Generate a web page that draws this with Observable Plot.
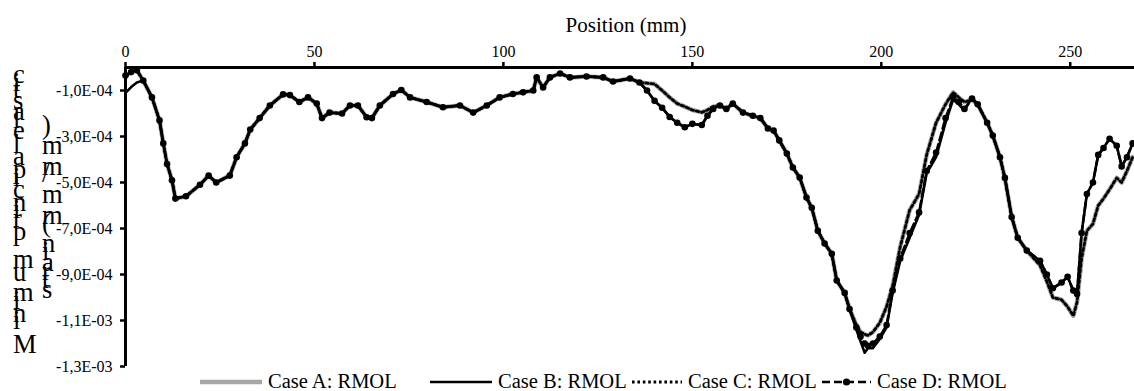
<!DOCTYPE html>
<html><head><meta charset="utf-8">
<script src="https://cdn.jsdelivr.net/npm/d3@7"></script>
<script src="https://cdn.jsdelivr.net/npm/@observablehq/plot@0.6"></script>
<style>
body{margin:0;background:#fff;font-family:"Liberation Serif","Tinos","DejaVu Serif","Noto Serif",serif;}
#chart{width:1134px;height:372px;}
#legend{position:relative;width:1134px;height:19px;}
.item{position:absolute;top:0;height:19px;display:flex;align-items:center;font-size:20.5px;color:#000;white-space:nowrap;}
.item svg{margin-right:6px;}
#chart svg text{font-family:"Liberation Serif","Tinos","DejaVu Serif","Noto Serif",serif;}
</style></head><body>
<div id="chart"></div><div id="legend"></div>
<script>
// Position along the section (mm)
const positionMm = [
  0, 1.5, 3, 4.7, 7, 9, 10, 11, 12.3, 13.2,
  16, 19.7, 22, 24, 27.6, 29.4, 31.6, 33, 35.5, 38.2,
  41.7, 43.5, 46, 48.3, 50.6, 52, 54, 57.3, 59.4, 61.5,
  63.8, 65.2, 67.3, 70.8, 73, 75.3, 79.7, 84, 88.5, 92,
  95.6, 99, 102.5, 105.2, 107.9, 108.8, 110.5, 112.3, 115, 117.6,
  122, 126.4, 129, 133.5, 136, 138, 140, 142, 144, 146,
  148, 150, 152.5, 154, 155.5, 157.3, 159, 160.7, 163.4, 166,
  168, 170, 171.5, 173, 175, 176.6, 178.4, 180.2, 181.6, 183.2,
  185, 186.9, 188.2, 190.3, 191.6, 193.4, 194.5, 195.6, 196.5, 197.8,
  199.6, 201.4, 203, 205, 207.5, 210, 212, 214.5, 217, 219,
  220.5, 222, 224, 225.5, 228, 229.5, 231.4, 232.7, 234.5, 236.1,
  238.5, 242, 243.8, 245.4, 247.7, 249.3, 250.8, 251.8, 253, 254.4,
  256, 257.4, 258.8, 260.4, 262.3, 263.6, 265, 266.5
];
// Minimum principal elastic strain, in units of 1E-04 mm/mm
const caseA = [
  -0.35, -0.2, -0.12, -0.57, -1.3, -2.3, -3.3, -4.2, -4.9, -5.7,
  -5.6, -5.1, -4.7, -5.0, -4.7, -3.9, -3.3, -2.7, -2.2, -1.65,
  -1.17, -1.2, -1.5, -1.3, -1.57, -2.2, -1.96, -2.0, -1.65, -1.65,
  -2.16, -2.2, -1.65, -1.15, -0.98, -1.3, -1.5, -1.73, -1.65, -1.96,
  -1.65, -1.3, -1.15, -1.08, -1.0, -0.43, -0.87, -0.43, -0.26, -0.43,
  -0.39, -0.43, -0.61, -0.48, -0.65, -0.68, -0.72, -1.0, -1.3, -1.57,
  -1.7, -1.85, -1.95, -1.85, -1.7, -1.65, -1.8, -1.57, -1.96, -2.1,
  -2.2, -2.65, -2.74, -3.17, -3.74, -4.35, -4.78, -5.65, -6.1, -7.1,
  -7.65, -8.1, -9.26, -9.8, -10.5, -11.2, -11.5, -11.6, -11.65, -11.5,
  -11.1, -10.4, -9.5, -7.8, -6.2, -5.5, -3.8, -2.4, -1.6, -1.08,
  -1.3, -1.5, -1.4, -1.6, -2.4, -2.96, -3.9, -4.8, -6.5, -7.4,
  -7.96, -8.6, -9.3, -10.0, -10.1, -10.4, -10.8, -10.2, -8.3, -7.1,
  -6.8, -6.0, -5.7, -5.3, -4.8, -5.0, -4.5, -3.9
];
const caseB = [
  -1.1, -0.85, -0.65, -0.57, -1.3, -2.3, -3.3, -4.2, -4.9, -5.7,
  -5.6, -5.1, -4.7, -5.0, -4.7, -3.9, -3.3, -2.7, -2.2, -1.65,
  -1.17, -1.2, -1.5, -1.3, -1.57, -2.2, -1.96, -2.0, -1.65, -1.65,
  -2.16, -2.2, -1.65, -1.15, -0.98, -1.3, -1.5, -1.73, -1.65, -1.96,
  -1.65, -1.3, -1.15, -1.08, -1.0, -0.43, -0.87, -0.43, -0.26, -0.43,
  -0.39, -0.43, -0.61, -0.48, -0.65, -1.0, -1.45, -1.75, -2.15, -2.4,
  -2.6, -2.45, -2.5, -2.1, -1.8, -1.65, -1.8, -1.57, -1.96, -2.1,
  -2.2, -2.65, -2.74, -3.17, -3.74, -4.35, -4.78, -5.65, -6.1, -7.1,
  -7.65, -8.1, -9.26, -9.8, -10.5, -11.4, -11.9, -12.4, -12.2, -12.2,
  -11.8, -11.3, -9.8, -8.4, -7.4, -6.4, -4.6, -3.9, -2.4, -1.4,
  -1.6, -1.87, -1.3, -1.6, -2.4, -2.96, -3.9, -4.8, -6.5, -7.4,
  -7.96, -8.4, -9.0, -9.6, -9.35, -9.1, -9.7, -9.85, -7.2, -5.5,
  -5.0, -3.8, -3.5, -3.1, -3.4, -4.3, -3.9, -3.3
];
const caseC = [
  -0.35, -0.2, -0.12, -0.57, -1.3, -2.3, -3.3, -4.2, -4.9, -5.7,
  -5.6, -5.1, -4.7, -5.0, -4.7, -3.9, -3.3, -2.7, -2.2, -1.65,
  -1.17, -1.2, -1.5, -1.3, -1.57, -2.2, -1.96, -2.0, -1.65, -1.65,
  -2.16, -2.2, -1.65, -1.15, -0.98, -1.3, -1.5, -1.73, -1.65, -1.96,
  -1.65, -1.3, -1.15, -1.08, -1.0, -0.43, -0.87, -0.43, -0.26, -0.43,
  -0.39, -0.43, -0.61, -0.48, -0.65, -0.68, -0.72, -1.0, -1.3, -1.57,
  -1.7, -1.85, -1.95, -1.85, -1.7, -1.65, -1.8, -1.57, -1.96, -2.1,
  -2.2, -2.65, -2.74, -3.17, -3.74, -4.35, -4.78, -5.65, -6.1, -7.1,
  -7.65, -8.1, -9.26, -9.8, -10.5, -11.2, -11.5, -11.6, -11.65, -11.5,
  -11.1, -10.4, -9.5, -7.8, -6.2, -5.5, -3.8, -2.4, -1.6, -1.08,
  -1.3, -1.5, -1.4, -1.6, -2.4, -2.96, -3.9, -4.8, -6.5, -7.4,
  -7.96, -8.6, -9.3, -10.0, -10.1, -10.4, -10.8, -10.2, -8.3, -7.1,
  -6.8, -6.0, -5.7, -5.3, -4.8, -5.0, -4.5, -3.9
];
const caseD = [
  -0.35, -0.2, -0.12, -0.57, -1.3, -2.3, -3.3, -4.2, -4.9, -5.7,
  -5.6, -5.1, -4.7, -5.0, -4.7, -3.9, -3.3, -2.7, -2.2, -1.65,
  -1.17, -1.2, -1.5, -1.3, -1.57, -2.2, -1.96, -2.0, -1.65, -1.65,
  -2.16, -2.2, -1.65, -1.15, -0.98, -1.3, -1.5, -1.73, -1.65, -1.96,
  -1.65, -1.3, -1.15, -1.08, -1.0, -0.43, -0.87, -0.43, -0.26, -0.43,
  -0.39, -0.43, -0.61, -0.48, -0.65, -1.0, -1.45, -1.75, -2.15, -2.4,
  -2.6, -2.45, -2.5, -2.1, -1.8, -1.65, -1.8, -1.57, -1.96, -2.1,
  -2.2, -2.65, -2.74, -3.17, -3.74, -4.35, -4.78, -5.65, -6.1, -7.1,
  -7.65, -8.1, -9.26, -9.8, -10.5, -11.3, -11.7, -12.0, -12.1, -12.0,
  -11.7, -11.2, -9.7, -8.3, -7.2, -6.3, -4.5, -3.7, -2.2, -1.3,
  -1.5, -1.8, -1.35, -1.6, -2.4, -2.96, -3.9, -4.8, -6.5, -7.4,
  -7.96, -8.4, -9.0, -9.6, -9.35, -9.1, -9.7, -9.85, -7.2, -5.5,
  -5.0, -3.8, -3.5, -3.1, -3.4, -4.3, -3.9, -3.3
];
const valueUnit = 1e-4;
const seriesNames = ["Case A: RMOL", "Case B: RMOL", "Case C: RMOL", "Case D: RMOL"];
const xTicks = [0, 50, 100, 150, 200, 250];
const yTicks = [-1e-4, -3e-4, -5e-4, -7e-4, -9e-4, -1.1e-3, -1.3e-3];
const xTitle = "Position (mm)";
const yTitleLines = ["Minimum principal elastic", "strain (mm/mm)"];

const toRows = vals => positionMm.map((x, i) => ({x, y: vals[i] * valueUnit}));
const dataA = toRows(caseA), dataB = toRows(caseB), dataC = toRows(caseC), dataD = toRows(caseD);

function fmtE(d) {
  const [m, e] = d.toExponential(1).split("e");
  const ex = String(Math.abs(+e)).padStart(2, "0");
  return m.replace(".", ",") + "E" + (+e < 0 ? "-" : "+") + ex;
}

const serif = "'Liberation Serif', 'Tinos', 'DejaVu Serif', 'Noto Serif', serif";
const plot = Plot.plot({
  width: 1134, height: 372,
  marginTop: 67, marginBottom: 6, marginLeft: 125, marginRight: 0,
  style: {fontFamily: serif, fontSize: "15px", color: "#000", background: "#fff", overflow: "visible"},
  x: {domain: [0, 267]},
  y: {domain: [-1.3e-3, 0]},
  marks: [
    Plot.line(dataA, {x: "x", y: "y", stroke: "#a6a6a6", strokeWidth: 4.5}),
    Plot.line(dataB, {x: "x", y: "y", stroke: "#000", strokeWidth: 2.6}),
    Plot.line(dataC, {x: "x", y: "y", stroke: "#000", strokeWidth: 2.8, strokeDasharray: "2.6,2.8"}),
    Plot.line(dataD, {x: "x", y: "y", stroke: "#000", strokeWidth: 2.6, strokeDasharray: "8,4"}),
    Plot.dot(dataD, {x: "x", y: "y", r: 3.3, fill: "#000", stroke: "none"}),
    Plot.axisX({anchor: "top", ticks: xTicks, tickSize: 6, tickPadding: 5, strokeWidth: 2.5, label: null, fontSize: 16}),
    Plot.axisY({anchor: "left", ticks: yTicks, tickSize: 5, tickPadding: 8, strokeWidth: 2.5, tickFormat: fmtE, label: null, fontSize: 16}),
    Plot.ruleY([0], {stroke: "#000", strokeWidth: 3}),
    Plot.ruleX([0], {stroke: "#000", strokeWidth: 3})
  ]
});
document.getElementById("chart").appendChild(plot);

const svg = d3.select(plot);
svg.append("text").attr("x", 626).attr("y", 32).attr("text-anchor", "middle")
  .attr("font-size", 21).attr("fill", "#000").text(xTitle);
// stacked upright glyphs, reading bottom to top
const yCols = [{x: 13, y: 353}, {x: 42, y: 298}];
yTitleLines.forEach((t, i) => {
  svg.append("text")
    .attr("transform", `translate(${yCols[i].x},${yCols[i].y}) rotate(-90)`)
    .attr("text-anchor", "start")
    .attr("rotate", Array.from(t, () => 90).join(" "))
    .attr("font-size", 26.5).attr("fill", "#000").text(t);
});

// Legend
const legendSpecs = [
  {left: 200, w: 62, draw: g => g.append("line").attr("x1", 0).attr("x2", 62).attr("y1", 10).attr("y2", 10).attr("stroke", "#a6a6a6").attr("stroke-width", 4.5)},
  {left: 430, w: 62, draw: g => g.append("line").attr("x1", 0).attr("x2", 62).attr("y1", 10).attr("y2", 10).attr("stroke", "#000").attr("stroke-width", 2.6)},
  {left: 632, w: 50, draw: g => g.append("line").attr("x1", 0).attr("x2", 50).attr("y1", 10).attr("y2", 10).attr("stroke", "#000").attr("stroke-width", 2.8).attr("stroke-dasharray", "2.6,2.8")},
  {left: 822, w: 49, draw: g => {
    g.append("line").attr("x1", 0).attr("x2", 49).attr("y1", 10).attr("y2", 10).attr("stroke", "#000").attr("stroke-width", 2.6).attr("stroke-dasharray", "8,4");
    g.append("circle").attr("cx", 24.5).attr("cy", 10).attr("r", 3.6).attr("fill", "#000");
  }}
];
const legend = d3.select("#legend");
legendSpecs.forEach((s, i) => {
  const item = legend.append("div").attr("class", "item").style("left", s.left + "px");
  const sw = item.append("svg").attr("width", s.w).attr("height", 19);
  s.draw(sw);
  item.append("span").text(seriesNames[i]);
});
</script>
</body></html>
